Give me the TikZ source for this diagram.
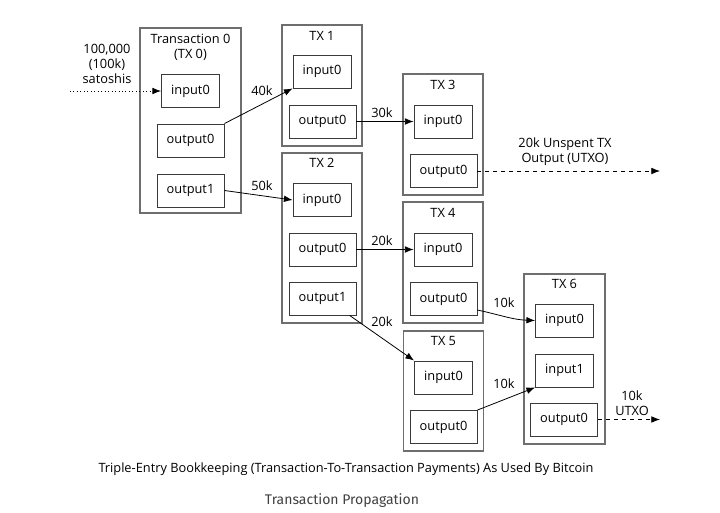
\documentclass[tikz,border=0pt]{standalone}
\usepackage{fontspec}
\setmainfont{Open Sans}
\newfontfamily\capfont{Fira Sans}
\usepackage{tikz}
\usetikzlibrary{arrows.meta}
\definecolor{framegray}{HTML}{6E6E6E}
\definecolor{boxgray}{HTML}{3A3A3A}
\tikzset{
	txframe/.style={draw=framegray, line width=0.85pt, minimum width=60pt},
	inslot/.style={draw=boxgray, line width=0.65pt, minimum width=43.5pt, minimum height=24.75pt, inner sep=0pt},
	outslot/.style={draw=boxgray, line width=0.65pt, minimum width=50.25pt, minimum height=24.75pt, inner sep=0pt},
	txtitle/.style={inner sep=0pt, align=center},
	amount/.style={inner sep=0pt, align=center},
	pay/.style={-{Latex[length=6.5pt, width=5pt]}, line width=0.6pt}
}
\begin{document}
\begin{tikzpicture}[x=0.75pt, y=-0.75pt, font=\fontsize{9.6pt}{11.5pt}\selectfont]
	\useasboundingbox (0,0) rectangle (720,513);

	% transactions
	\node[txframe, minimum width=75.75pt, minimum height=138.75pt] (tx0) at (190.5,120.5) {};
	\node[txframe, minimum height=90.75pt] (tx1) at (322,85.5) {};
	\node[txframe, minimum height=127.5pt] (tx2) at (322,238) {};
	\node[txframe, minimum height=90.75pt] (tx3) at (443,134.5) {};
	\node[txframe, minimum height=90.75pt] (tx4) at (443,262.5) {};
	\node[txframe, minimum height=90pt] (tx5) at (443.5,391) {};
	\node[txframe, minimum width=60.75pt, minimum height=127.5pt] (tx6) at (564.5,359) {};

	% titles
	\node[txtitle] (tx0t) at (190.5,47) {Transaction 0\\(TX 0)};
	\foreach \n/\x/\y in {1/322/36, 2/322/163, 3/443/85, 4/443/213, 5/443.5/341, 6/564.5/284} {
		\node[txtitle] (tx\n t) at (\x,\y) {TX \n};
	}

	% inputs and outputs
	\node[inslot] (in00) at (190.5,91) {input0};
	\node[outslot] (out00) at (190.5,140.5) {output0};
	\node[outslot] (out01) at (190.5,190.5) {output1};
	\node[inslot] (in10) at (322,71.5) {input0};
	\node[outslot] (out10) at (322.5,121.5) {output0};
	\node[inslot] (in20) at (322,200) {input0};
	\node[outslot] (out20) at (322.5,249.5) {output0};
	\node[outslot] (out21) at (322.5,298.5) {output1};
	\node[inslot] (in30) at (443,121.5) {input0};
	\node[outslot] (out30) at (443.5,171) {output0};
	\node[inslot] (in40) at (443,249.5) {input0};
	\node[outslot] (out40) at (443.5,299) {output0};
	\node[inslot] (in50) at (443.5,377.5) {input0};
	\node[outslot] (out50) at (443.5,427) {output0};
	\node[inslot] (in60) at (564.5,320.5) {input0};
	\node[inslot] (in61) at (564.5,370.5) {input1};
	\node[outslot] (out60) at (564,419.5) {output0};

	% payments
	\coordinate (coinbase) at (70,91);
	\coordinate (utxo1) at (660,171);
	\coordinate (utxo2) at (660,419.5);
	\draw[pay, dotted] (coinbase) -- (in00.west);
	\draw[pay] (out00.north east) -- (in10.south west);
	\draw[pay] (out01.east) -- (in20.west);
	\draw[pay] (out10.east) -- (in30.west);
	\draw[pay] (out20.east) -- (in40.west);
	\draw[pay] (out21.-32) -- (in50.north west);
	\draw[pay] (out40.-18) to[out=-12, in=178] (in60.west);
	\draw[pay] (out50.north east) -- (in61.south west);
	\draw[pay, dashed] (out30.east) -- (utxo1);
	\draw[pay, dashed] (out60.east) -- (utxo2);

	% amounts
	\node[amount] (sats) at (107,64) {100,000\\(100k)\\satoshis};
	\node[amount] (a40) at (262,91) {40k};
	\node[amount] (a50) at (262,186) {50k};
	\node[amount] (a30) at (382,113) {30k};
	\node[amount] (a20a) at (382,241) {20k};
	\node[amount] (a20b) at (382,322) {20k};
	\node[amount] (a10a) at (504,303) {10k};
	\node[amount] (a10b) at (504,384) {10k};
	\node[amount] (u20) at (565,152) {20k Unspent TX\\Output (UTXO)};
	\node[amount] (u10) at (632,403) {10k\\UTXO};

	% captions
	\node[inner sep=0pt] (cap1) at (346,469) {Triple-Entry Bookkeeping (Transaction-To-Transaction Payments) As Used By Bitcoin};
	\node[inner sep=0pt, text=black!75, font=\capfont\fontsize{10.5pt}{12pt}\selectfont] (cap2) at (342,501) {Transaction Propagation};
\end{tikzpicture}
\end{document}
